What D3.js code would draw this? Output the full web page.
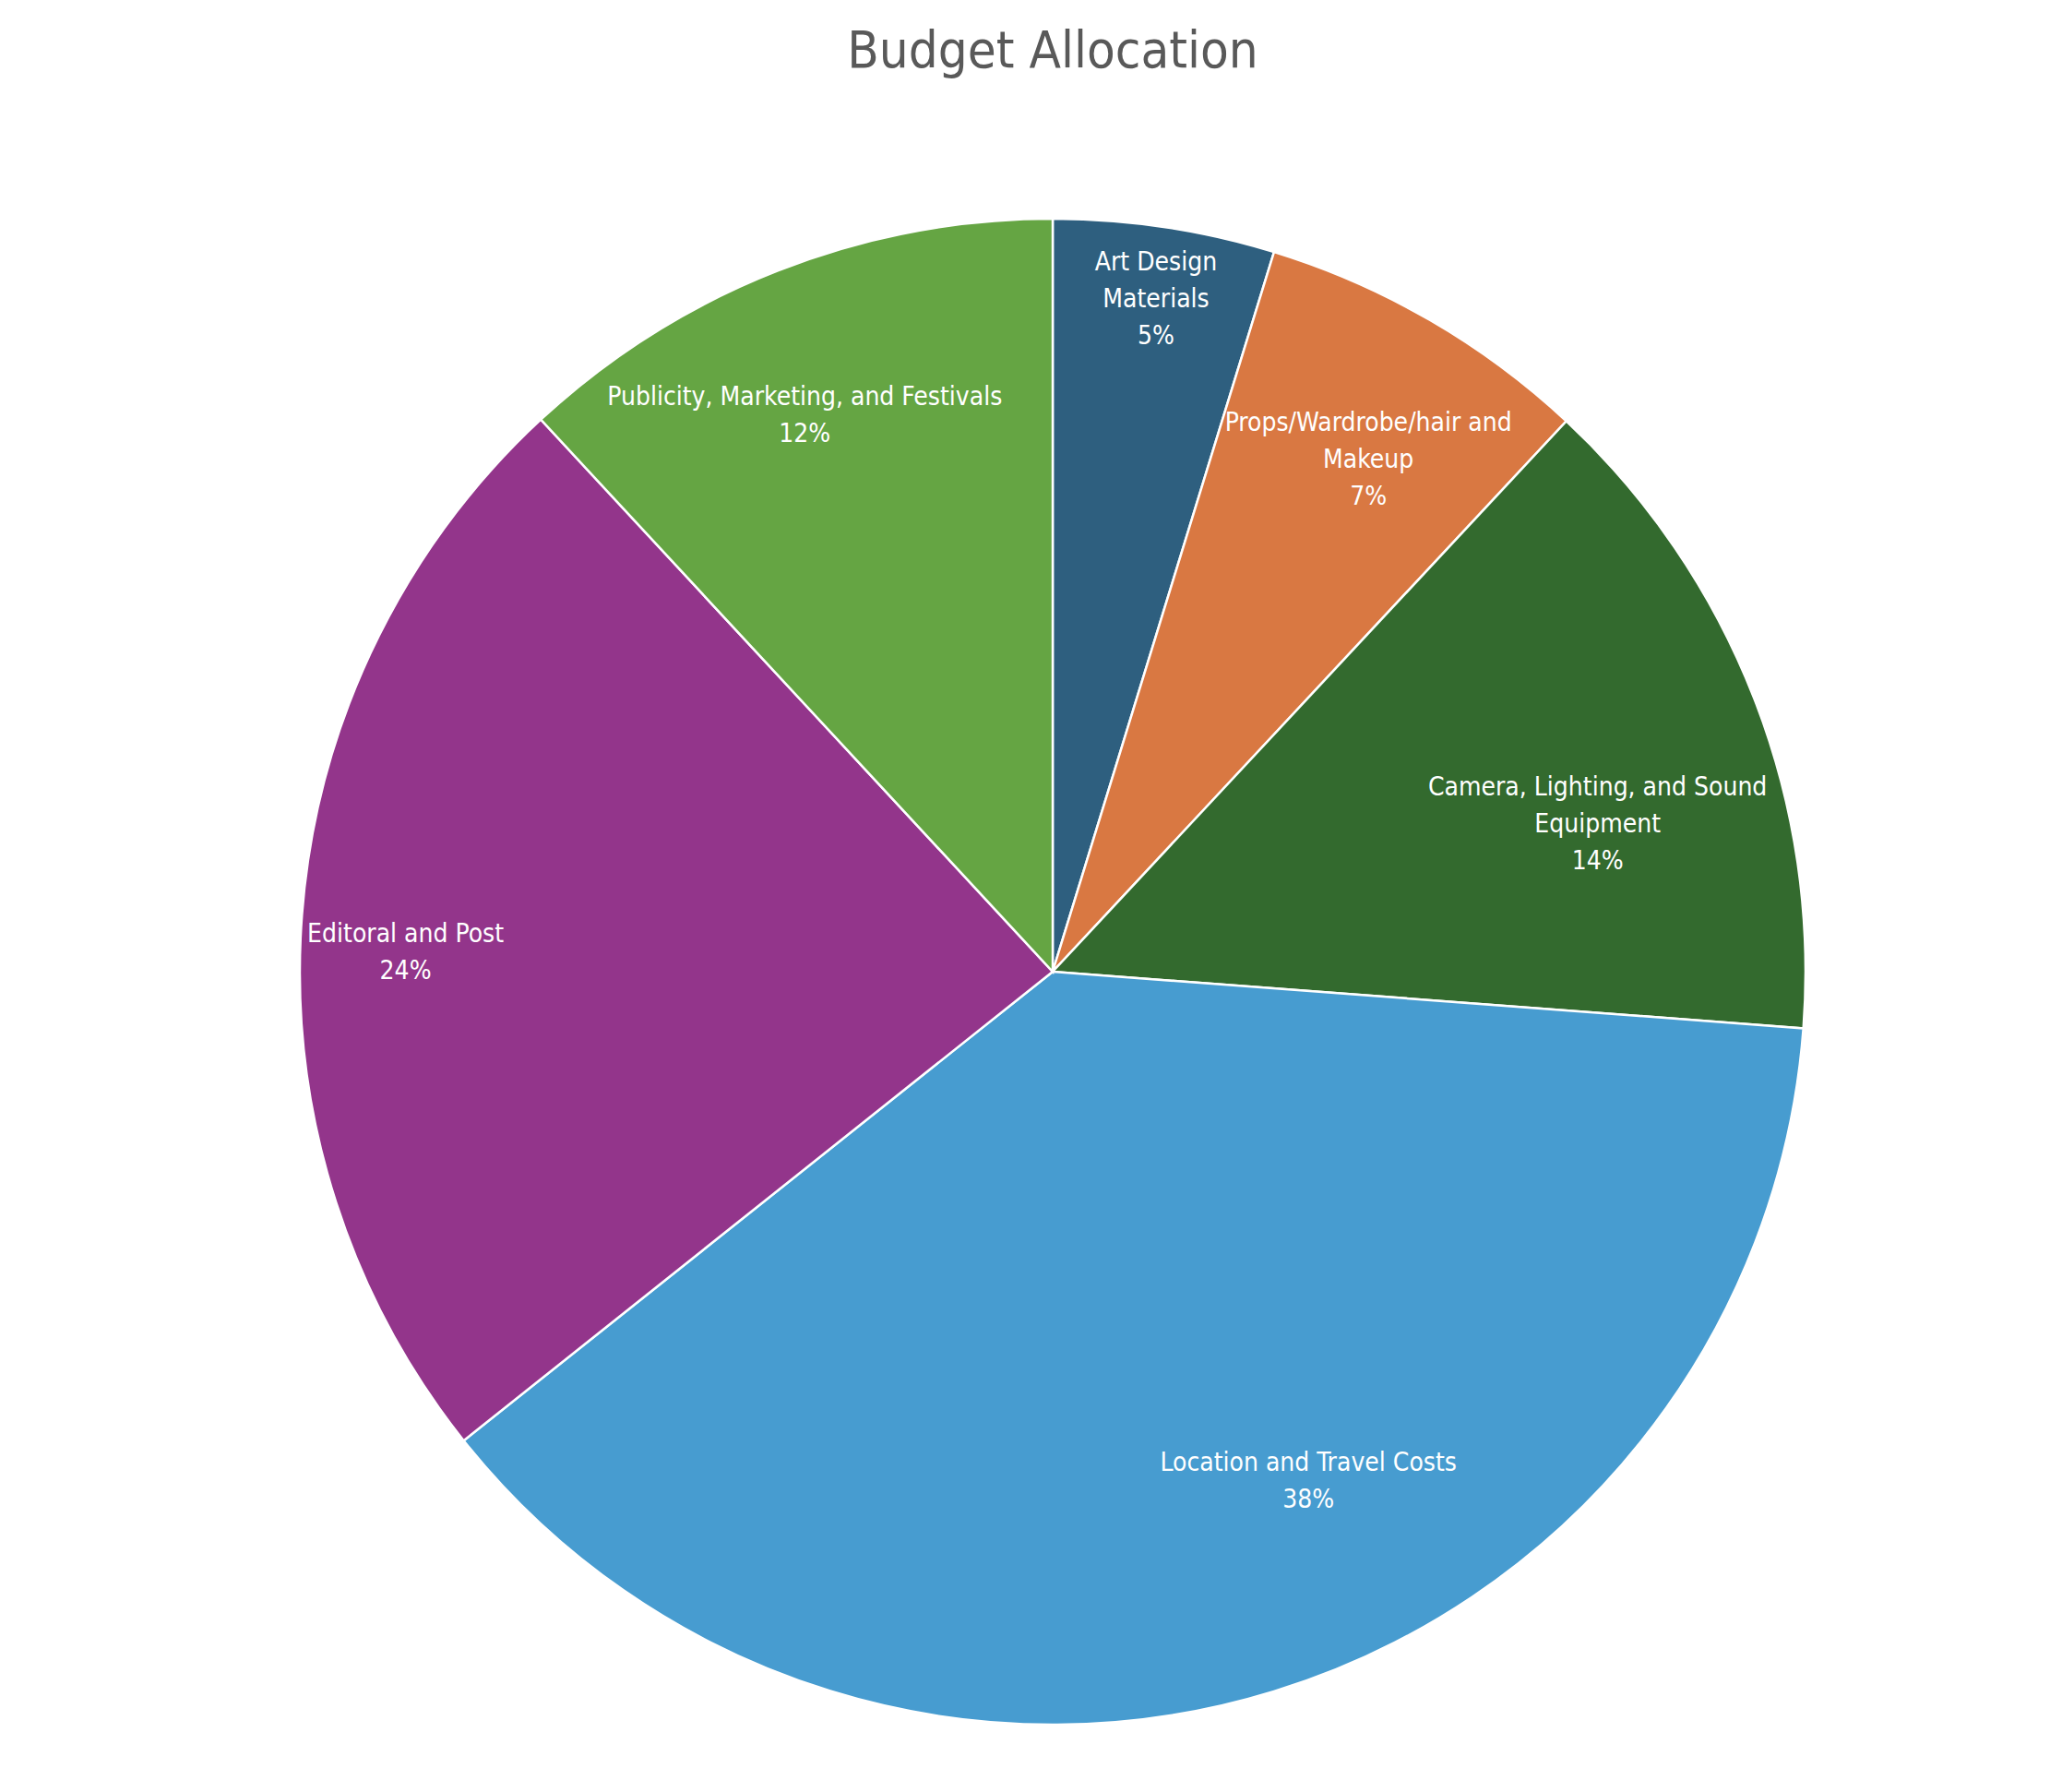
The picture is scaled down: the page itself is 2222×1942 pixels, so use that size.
<!DOCTYPE html>
<html>
<head>
<meta charset="utf-8">
<script src="https://cdn.jsdelivr.net/npm/d3@7"></script>
<style>
  html, body { margin: 0; padding: 0; background: #fff; }
  svg text { font-family: "Liberation Sans Narrow", "Arial Narrow", "DejaVu Sans Condensed", "DejaVu Sans", sans-serif; }
</style>
</head>
<body>
<div id="chart"></div>
<script>
// data
var categories = ["Art Design Materials", "Props/Wardrobe/hair and Makeup",
  "Camera, Lighting, and Sound Equipment", "Location and Travel Costs",
  "Editoral and Post", "Publicity, Marketing, and Festivals"];
var values = [4.75, 7.2, 14.25, 38.1, 23.8, 11.9];
var colors = ["#2e5f7f", "#d97842", "#336a2e", "#479cd0", "#93358b", "#65a543"];
// how the labels wrap inside their slice
var labelLines = [["Art Design", "Materials"], ["Props/Wardrobe/hair and", "Makeup"],
  ["Camera, Lighting, and Sound", "Equipment"], ["Location and Travel Costs"],
  ["Editoral and Post"], ["Publicity, Marketing, and Festivals"]];

var width = 2222, height = 1942;
var cx = 1141, cy = 1053, radius = 816;

// where inside each slice the text sits: [fraction of slice angle, fraction of radius]
var labelPlace = [[0.51, 0.905], [0.56, 0.80], [0.62, 0.75], [0.43, 0.756], [0.47, 0.86], [0.44, 0.81]];

var svg = d3.select("#chart").append("svg")
    .attr("width", width)
    .attr("height", height);

svg.append("text")
    .attr("x", cx)
    .attr("y", 73)
    .attr("text-anchor", "middle")
    .style("font-size", "56px")
    .style("fill", "#595959")
    .text("Budget Allocation");

var total = d3.sum(values);
var pie = d3.pie().sort(null).value(function(d) { return d; });
var arcs = pie(values);

var arc = d3.arc().innerRadius(0).outerRadius(radius);

var g = svg.append("g").attr("transform", "translate(" + cx + "," + cy + ")");

g.selectAll("path.slice")
  .data(arcs)
  .enter().append("path")
    .attr("class", "slice")
    .attr("d", arc)
    .style("fill", function(d, i) { return colors[i]; })
    .style("stroke", "#fff")
    .style("stroke-width", 2.5);

var lineH = 40;
var labels = g.selectAll("text.lbl")
  .data(arcs)
  .enter().append("text")
    .attr("class", "lbl")
    .attr("text-anchor", "middle")
    .style("font-size", "28px")
    .style("fill", "#fff")
    .each(function(d, i) {
      var p = labelPlace[i];
      var a = d.startAngle + (d.endAngle - d.startAngle) * p[0];
      var r = radius * p[1];
      var x = Math.sin(a) * r, y = -Math.cos(a) * r;
      var lines = labelLines[i].concat([Math.round(d.value / total * 100) + "%"]);
      var t = d3.select(this);
      lines.forEach(function(s, k) {
        t.append("tspan")
          .attr("x", x)
          .attr("y", y + (k - (lines.length - 1) / 2) * lineH)
          .attr("dominant-baseline", "central")
          .text(s);
      });
    });
</script>
</body>
</html>
